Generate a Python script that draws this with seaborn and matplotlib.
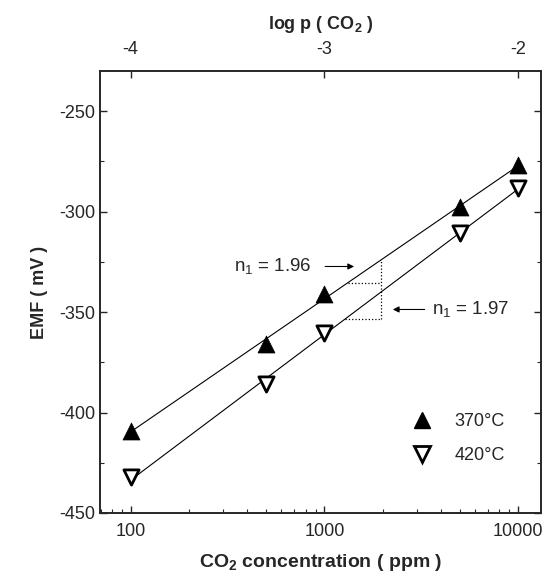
import numpy as np
import pandas as pd
import matplotlib
matplotlib.use("Agg")
import matplotlib.pyplot as plt
from matplotlib.ticker import FixedLocator, LogLocator, NullFormatter, MultipleLocator, NullLocator
from matplotlib.lines import Line2D
import seaborn as sns

# ------------------------------
# Data
# ------------------------------
CO2_PPM = [100, 500, 1000, 5000, 10000]
EMF_370 = [-409, -366, -341, -297.5, -277]
EMF_420 = [-432, -386, -360.5, -310.5, -288]
LABELS = ["370°C", "420°C"]
SLOPE_TEXT = ["n$_1$ = 1.96", "n$_1$ = 1.97"]
TOP_TICKS = [-4, -3, -2]

sns.set_style("ticks")
plt.rcParams["font.family"] = ["Liberation Sans", "DejaVu Sans"]
plt.rcParams["mathtext.fontset"] = "custom"
plt.rcParams["mathtext.rm"] = "Liberation Sans"
plt.rcParams["mathtext.it"] = "Liberation Sans"
plt.rcParams["mathtext.bf"] = "Liberation Sans:bold"
plt.rcParams["axes.unicode_minus"] = False
plt.rcParams["xtick.direction"] = "in"
plt.rcParams["ytick.direction"] = "in"

df = pd.DataFrame({"ppm": CO2_PPM, "emf370": EMF_370, "emf420": EMF_420})

fig = plt.figure(figsize=(5.52, 5.73), dpi=100)
ax = fig.add_axes([100 / 552, 1 - 513 / 573, 441 / 552, 442 / 573])
ax.set_xscale("log")

# fitted lines (EMF linear in log c)
for col in ["emf370", "emf420"]:
    sns.regplot(data=df, x="ppm", y=col, logx=True, ci=None, scatter=False,
                ax=ax, line_kws={"color": "black", "lw": 0.8})

sns.scatterplot(data=df, x="ppm", y="emf370", marker="^", s=150,
                color="black", edgecolor="black", linewidth=0.5, ax=ax, zorder=4)
sns.scatterplot(data=df, x="ppm", y="emf420", marker="v", s=120,
                facecolor="white", edgecolor="black", linewidth=2.0, ax=ax, zorder=4)

# slope construction (dotted)
m1, b1 = np.polyfit(np.log10(CO2_PPM), EMF_370, 1)
m2, b2 = np.polyfit(np.log10(CO2_PPM), EMF_420, 1)
xv = 1950
y_top = m1 * np.log10(xv) + b1
y_h1, y_h2 = -335.4, -353.6
x_h1 = 10 ** ((y_h1 - b1) / m1)
x_h2 = 10 ** ((y_h2 - b2) / m2)
ax.plot([xv, xv], [y_h2, y_top], ls=":", color="black", lw=0.9)
ax.plot([x_h1, xv], [y_h1, y_h1], ls=":", color="black", lw=0.9)
ax.plot([x_h2, xv], [y_h2, y_h2], ls=":", color="black", lw=0.9)

arrow = dict(arrowstyle="-|>", color="black", lw=0.8, mutation_scale=9)
ax.annotate("", xy=(1470, -327.3), xytext=(975, -327.3), arrowprops=arrow)
ax.text(860, -327.3, SLOPE_TEXT[0], ha="right", va="center", fontsize=13.5)
ax.annotate("", xy=(2180, -348.7), xytext=(3400, -348.7), arrowprops=arrow)
ax.text(3600, -348.7, SLOPE_TEXT[1], ha="left", va="center", fontsize=13.5)

# legend
handles = [
    Line2D([], [], ls="none", marker="^", ms=12, color="black"),
    Line2D([], [], ls="none", marker="v", ms=11, mfc="white", mec="black", mew=2.0),
]
ax.legend(handles, LABELS, loc="lower right", bbox_to_anchor=(0.955, 0.073),
          frameon=False, fontsize=13, handletextpad=1.2, labelspacing=0.95,
          handlelength=1.2)

xlim = (69.5, 13100)
ax.set_xlim(*xlim)
ax.set_ylim(-450, -230)
ax.xaxis.set_major_locator(FixedLocator([100, 1000, 10000]))
ax.set_xticklabels(["100", "1000", "10000"])
ax.xaxis.set_minor_locator(LogLocator(base=10, subs=np.arange(2, 10)))
ax.xaxis.set_minor_formatter(NullFormatter())
ax.yaxis.set_major_locator(MultipleLocator(50))
ax.yaxis.set_minor_locator(MultipleLocator(25))
ax.tick_params(which="major", length=5, width=1, labelsize=13, right=True)
ax.tick_params(axis="x", which="major", pad=7)
ax.tick_params(which="minor", length=3, width=0.8, right=True)
ax.tick_params(axis="x", which="both", top=False)
for sp in ax.spines.values():
    sp.set_linewidth(1.2)

ax.set_xlabel("CO$_\\mathbf{2}$ concentration ( ppm )", fontsize=14,
              fontweight="bold", labelpad=9)
ax.set_ylabel("EMF ( mV )", fontsize=13, fontweight="bold", labelpad=8)

# top axis: log p(CO2) = log10(ppm) - 6
top = ax.twiny()
top.set_xlim(np.log10(xlim[0]) - 6, np.log10(xlim[1]) - 6)
top.set_xticks(TOP_TICKS)
top.set_xticklabels([str(t) for t in TOP_TICKS])
top.xaxis.set_minor_locator(NullLocator())
top.tick_params(axis="x", direction="in", length=5, width=1, labelsize=13, pad=9)
top.set_xlabel("log p ( CO$_\\mathbf{2}$ )", fontsize=13, fontweight="bold", labelpad=9)
for sp in top.spines.values():
    sp.set_linewidth(1.2)

fig.savefig("out.png", dpi=100)
